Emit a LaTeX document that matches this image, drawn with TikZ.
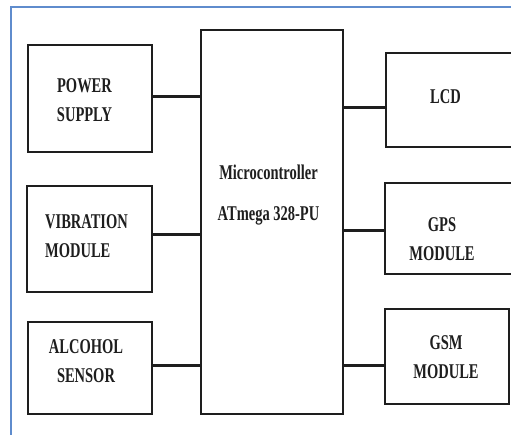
\documentclass[tikz,border=0pt]{standalone}
\usepackage{fontspec}
\newfontfamily\dfont[FakeStretch=0.69]{Liberation Serif}
\definecolor{framecol}{RGB}{95,140,205}
\definecolor{inkcol}{RGB}{30,30,30}
\tikzset{
  blk/.style={draw=inkcol, line width=2.6pt, rectangle, inner sep=0pt},
  txt/.style={text=inkcol, font=\dfont\bfseries\fontsize{21}{29}\selectfont, align=center, inner sep=0pt},
  wire/.style={draw=inkcol, line width=3pt}
}
\begin{document}
\begin{tikzpicture}[x=1pt,y=-1pt]
\useasboundingbox (0,0) rectangle (511,434);
\begin{scope}
\clip (0,0) rectangle (511,434);
\draw[framecol, line width=2pt] (512,7) -- (11,7) -- (11,435);
% boxes
\node[blk, minimum width=124pt, minimum height=107pt] (pw) at (90,98.5) {};
\node[blk, minimum width=125pt, minimum height=106pt] (vb) at (89.5,239) {};
\node[blk, minimum width=124pt, minimum height=92pt] (al) at (90,368) {};
\node[blk, minimum width=142pt, minimum height=384pt] (mc) at (272,222) {};
\node[blk, minimum width=132pt, minimum height=94pt] (lcd) at (452,100) {};
\node[blk, minimum width=132pt, minimum height=91pt] (gps) at (451,228.5) {};
\node[blk, minimum width=124pt, minimum height=95pt] (gsm) at (447,356.5) {};
% texts
\node[txt] (pwt) at (84.5,100) {POWER\\SUPPLY};
\node[txt, align=left] (vbt) at (86.5,236.5) {VIBRATION\\MODULE};
\node[txt] (alt) at (86,361) {ALCOHOL\\SENSOR};
\node[txt] (mct) at (268.5,195) {Microcontroller\\[12pt]ATmega 328-PU};
\node[txt] (lcdt) at (445.5,97) {LCD};
\node[txt] (gpst) at (442,239) {GPS\\MODULE};
\node[txt] (gsmt) at (446,357) {GSM\\MODULE};
% connectors
\path ([yshift=2.5pt]pw.east) coordinate (c1);
\path ([yshift=5pt]vb.east) coordinate (c2);
\path ([yshift=3pt]al.east) coordinate (c3);
\path ([yshift=-7pt]lcd.west) coordinate (c4);
\path ([yshift=-1.5pt]gps.west) coordinate (c5);
\path ([yshift=-8.5pt]gsm.west) coordinate (c6);
\draw[wire] (c1) -- (c1 -| mc.west);
\draw[wire] (c2) -- (c2 -| mc.west);
\draw[wire] (c3) -- (c3 -| mc.west);
\draw[wire] (c4 -| mc.east) -- (c4);
\draw[wire] (c5 -| mc.east) -- (c5);
\draw[wire] (c6 -| mc.east) -- (c6);
\end{scope}
\end{tikzpicture}
\end{document}
